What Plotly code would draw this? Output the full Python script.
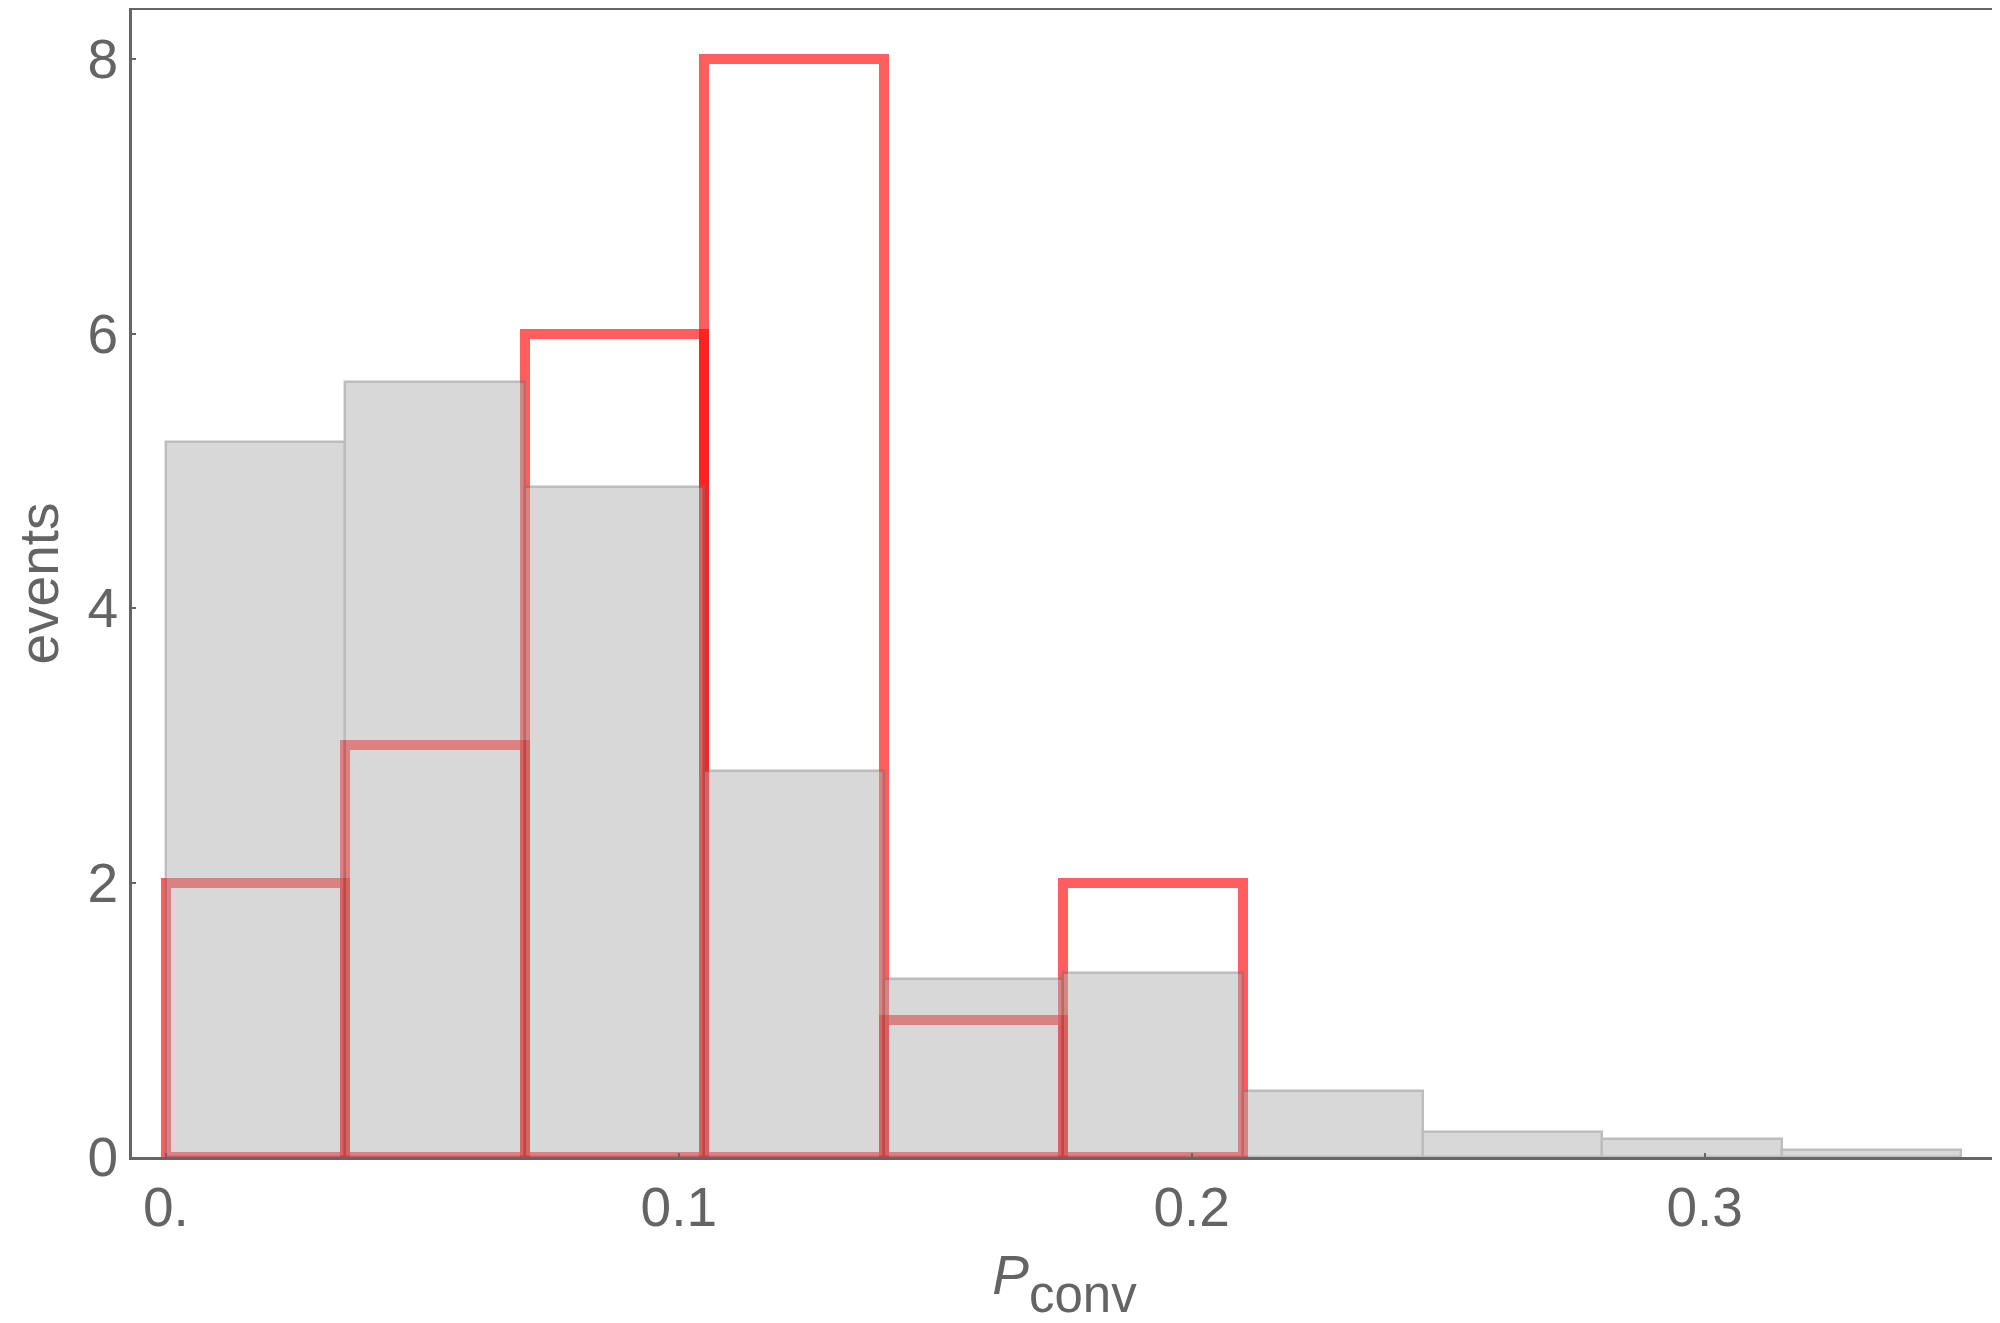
import plotly.graph_objects as go

# ----------------------------------------------------------
# DATA
# ----------------------------------------------------------

bin_width = 0.035

# left edges of the bins
gray_edges = [0.0, 0.035, 0.07, 0.105, 0.14, 0.175, 0.21, 0.245, 0.28, 0.315]
gray_counts = [5.21, 5.65, 4.88, 2.81, 1.30, 1.34, 0.48, 0.18, 0.13, 0.05]

red_edges = [0.0, 0.035, 0.07, 0.105, 0.14, 0.175]
red_counts = [2, 3, 6, 8, 1, 2]

x_tickvals = [0.0, 0.1, 0.2, 0.3]
x_ticktext = ["0.", "0.1", "0.2", "0.3"]
y_tickvals = [0, 2, 4, 6, 8]

FONT = "Liberation Sans, Arial, sans-serif"
TEXT = "#646464"

fig = go.Figure()

# observed events (red outline, drawn first so the gray sits on top)
fig.add_trace(
    go.Bar(
        x=red_edges,
        y=red_counts,
        width=bin_width,
        offset=0,
        marker=dict(
            color="rgba(0,0,0,0)",
            line=dict(color="rgba(255,0,0,0.63)", width=10),
        ),
        cliponaxis=False,
        showlegend=False,
    )
)

# expected distribution (translucent gray)
fig.add_trace(
    go.Bar(
        x=gray_edges,
        y=gray_counts,
        width=bin_width,
        offset=0,
        marker=dict(
            color="rgb(171,171,171)",
            line=dict(color="rgb(115,115,115)", width=2.4),
        ),
        opacity=0.47,
        showlegend=False,
    )
)

axis_common = dict(
    automargin=False,
    showline=True,
    linecolor="#666666",
    linewidth=2.6,
    mirror=True,
    showgrid=False,
    zeroline=False,
    ticks="inside",
    ticklen=4,
    tickwidth=2,
    tickcolor="#666666",
    tickfont=dict(family=FONT, size=55, color=TEXT),
)

# subscript: outer span sets how far <sub> drops, inner span its size
x_title = (
    "<i>P</i><span style='font-size:88px'><sub>"
    "<span style='font-size:51px'>conv</span></sub></span>"
)

# the page body adds an 8px offset, so the figure is kept inside the window
fig.update_layout(
    width=1992,
    height=1315,
    margin=dict(l=124, r=3, t=2, b=166),
    paper_bgcolor="white",
    plot_bgcolor="white",
    barmode="overlay",
    bargap=0,
    xaxis=dict(
        axis_common,
        range=[-0.0066, 0.357],
        tickvals=x_tickvals,
        ticktext=x_ticktext,
        ticklabelstandoff=0,
        title=dict(
            text=x_title,
            font=dict(family=FONT, size=55, color=TEXT),
            standoff=32,
        ),
    ),
    yaxis=dict(
        axis_common,
        range=[0, 8.357],
        tickvals=y_tickvals,
        ticklabelstandoff=0,
        title=dict(
            text="events",
            font=dict(family=FONT, size=55, color=TEXT),
            standoff=28,
        ),
    ),
)

fig.write_html("out.html")
